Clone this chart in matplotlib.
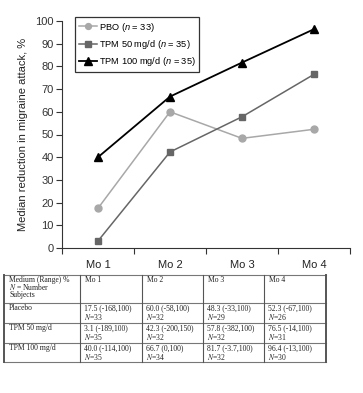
import matplotlib
matplotlib.use("Agg")
import matplotlib.pyplot as plt

plt.rcParams['font.family'] = ['Liberation Sans', 'DejaVu Sans']
plt.rcParams['mathtext.fontset'] = 'custom'
plt.rcParams['mathtext.it'] = 'Liberation Sans:italic'
plt.rcParams['mathtext.rm'] = 'Liberation Sans'

# ---- data ----
months = ["Mo 1", "Mo 2", "Mo 3", "Mo 4"]
pbo = [17.5, 60.0, 48.3, 52.3]
tpm50 = [3.1, 42.3, 57.8, 76.5]
tpm100 = [40.0, 66.7, 81.7, 96.4]
series_labels = [r"PBO ($n$ = 33)", r"TPM 50 mg/d ($n$ = 35)", r"TPM 100 mg/d ($n$ = 35)"]
y_ticks = list(range(0, 101, 10))
y_label = "Median reduction in migraine attack, %"

table_header = [["Medium (Range) %", "$N$ = Number", "Subjects"], ["Mo 1"], ["Mo 2"], ["Mo 3"], ["Mo 4"]]
row_names = ["Placebo", "TPM 50 mg/d", "TPM 100 mg/d"]
cell_values = [
    ["17.5 (-168,100)", "60.0 (-58,100)", "48.3 (-33,100)", "52.3 (-67,100)"],
    ["3.1 (-189,100)", "42.3 (-200,150)", "57.8 (-382,100)", "76.5 (-14,100)"],
    ["40.0 (-114,100)", "66.7 (0,100)", "81.7 (-3.7,100)", "96.4 (-13,100)"],
]
cell_n = [
    [33, 32, 29, 26],
    [35, 32, 32, 31],
    [35, 34, 32, 30],
]

W, H = 363, 393
fig = plt.figure(figsize=(W / 100, H / 100), dpi=100)

# ---- chart ----
ax = fig.add_axes([62 / W, 1 - 248 / H, 288 / W, 227 / H])
x = list(range(len(months)))
ax.plot(x, pbo, color="#a8a8a8", lw=1.1, marker="o", ms=5, label=series_labels[0])
ax.plot(x, tpm50, color="#666666", lw=1.1, marker="s", ms=5, label=series_labels[1])
ax.plot(x, tpm100, color="#000000", lw=1.3, marker="^", ms=6, label=series_labels[2])

ax.set_xlim(-0.5, len(months) - 0.5)
ax.set_ylim(0, 100)
ax.set_yticks(y_ticks)
ax.tick_params(axis="y", labelsize=8, length=4, width=0.8, pad=2, colors="#333333")
ax.set_xticks([i - 0.5 for i in range(len(months) + 1)])
ax.set_xticklabels([])
ax.set_xticks(x, minor=True)
ax.set_xticklabels(months, minor=True)
ax.tick_params(axis="x", which="major", length=4, width=0.8, color="#333333")
ax.tick_params(axis="x", which="minor", length=0, labelsize=8, pad=9, labelcolor="#222222")
for s in ["top", "right"]:
    ax.spines[s].set_visible(False)
for s in ["left", "bottom"]:
    ax.spines[s].set_color("#333333")
    ax.spines[s].set_linewidth(0.8)
ax.set_ylabel(y_label, fontsize=8, color="#222222", labelpad=5)

leg = ax.legend(loc="upper left", bbox_to_anchor=(75 / W, 1 - 17 / H), bbox_transform=fig.transFigure,
                fontsize=6.7, frameon=True, fancybox=False, edgecolor="#000000",
                borderpad=0.4, labelspacing=0.45, handlelength=2.0, handletextpad=0.15,
                borderaxespad=0, markerscale=0.85)
leg.get_frame().set_linewidth(0.9)

# ---- table ----
tax = fig.add_axes([0, 0, 1, 1], zorder=-1)
tax.set_xlim(0, W)
tax.set_ylim(H, 0)
tax.axis("off")
col_edges = [4, 80, 142, 203, 264, 326]
row_edges = [275, 303, 323, 343, 362]
for yy in row_edges:
    tax.plot([col_edges[0], col_edges[-1]], [yy, yy], color="#777777", lw=0.8)
for i, xx in enumerate(col_edges):
    lw = 1.4 if i in (0, len(col_edges) - 1) else 0.8
    tax.plot([xx, xx], [row_edges[0], row_edges[-1]], color="#555555", lw=lw)

tfont = dict(family="Liberation Serif", fontsize=5.5, color="#222222", va="center", ha="left",
             math_fontfamily="stix")
for c, lines in enumerate(table_header):
    for k, line in enumerate(lines):
        tax.text(col_edges[c] + 5, row_edges[0] + 5 + 7.5 * k, line, **tfont)
for r, name in enumerate(row_names):
    y0 = row_edges[r + 1]
    tax.text(col_edges[0] + 5, y0 + 5.5, name, **tfont)
    for c in range(len(months)):
        tax.text(col_edges[c + 1] + 4, y0 + 5.5, cell_values[r][c], **tfont)
        tax.text(col_edges[c + 1] + 4, y0 + 13.5, "$N$=%d" % cell_n[r][c], **tfont)

fig.savefig("out.png", dpi=100)
